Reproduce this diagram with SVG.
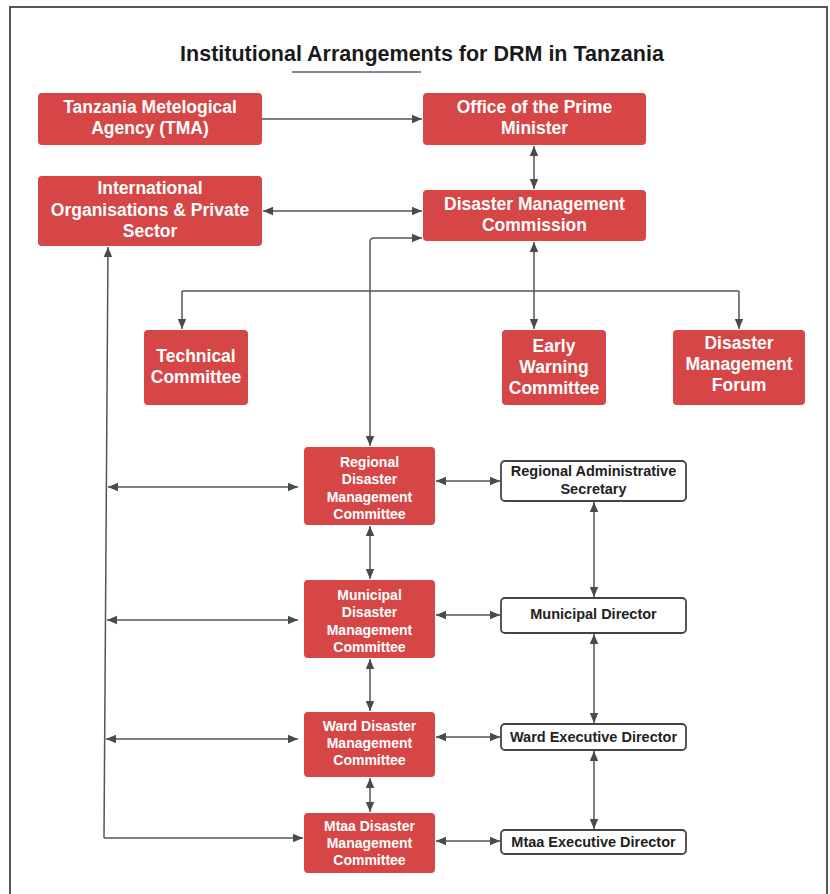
<svg xmlns="http://www.w3.org/2000/svg" width="830" height="894" viewBox="0 0 830 894">
<defs>
<marker id="ah" viewBox="0 0 10 10" refX="10" refY="5" markerWidth="10" markerHeight="10" markerUnits="userSpaceOnUse" orient="auto-start-reverse">
<path d="M0,0.8 L10,5 L0,9.2 Z" fill="#4a4a4a"/>
</marker>
<style>
.red{fill:#d64646;}
.wht{fill:#ffffff;stroke:#444;stroke-width:1.8;}
.tl{font-family:"Liberation Sans",Arial,sans-serif;font-weight:bold;fill:#ffffff;text-anchor:middle;font-size:17.5px;}
.tm{font-family:"Liberation Sans",Arial,sans-serif;font-weight:bold;fill:#ffffff;text-anchor:middle;font-size:14px;}
.tw{font-family:"Liberation Sans",Arial,sans-serif;font-weight:bold;fill:#222;text-anchor:middle;font-size:14.5px;}
.c{fill:none;stroke:#555;stroke-width:1.5;}
.b{marker-start:url(#ah);marker-end:url(#ah);}
.e{marker-end:url(#ah);}
</style>
</defs>
<rect x="0" y="0" width="830" height="894" fill="#ffffff"/>
<rect x="10" y="7" width="817" height="900" fill="none" stroke="#444" stroke-width="1.8"/>
<g id="title">
<text x="422" y="61" font-family="Liberation Sans,Arial,sans-serif" font-weight="bold" font-size="21.5" fill="#1a1a1a" text-anchor="middle">Institutional Arrangements for DRM in Tanzania</text>
<line x1="292" y1="72" x2="421" y2="72" stroke="#7f8a96" stroke-width="1.8"/>
</g>
<g id="connectors">
<path class="c e" d="M262,119 H422"/>
<path class="c b" d="M534,146 V189"/>
<path class="c b" d="M263,211 H422"/>
<path class="c b" d="M370,446 V242 Q370,238 374,238 H422"/>
<path class="c b" d="M534,242 V329"/>
<path class="c" d="M182,291 H739"/>
<path class="c e" d="M182,291 V329"/>
<path class="c e" d="M739,291 V329"/>
<path class="c e" d="M104,838 L108,247"/>
<path class="c e" d="M104,838 H303"/>
<path class="c b" d="M108,487 H298"/>
<path class="c b" d="M107,620 H298"/>
<path class="c b" d="M106,739 H298"/>
<path class="c b" d="M436,481 H500"/>
<path class="c b" d="M436,615 H500"/>
<path class="c b" d="M436,737 H500"/>
<path class="c b" d="M436,841 H500"/>
<path class="c b" d="M370,526 V579"/>
<path class="c b" d="M370,659 V711"/>
<path class="c b" d="M370,778 V812"/>
<path class="c b" d="M594,502 V597"/>
<path class="c b" d="M594,634 V723"/>
<path class="c b" d="M594,751 V829"/>
</g>
<g id="tma">
<rect class="red" x="38" y="93" width="224" height="52" rx="4"/>
<text class="tl" x="150" y="113">Tanzania Metelogical</text>
<text class="tl" x="150" y="134">Agency (TMA)</text>
</g>
<g id="opm">
<rect class="red" x="423" y="93" width="223" height="52" rx="4"/>
<text class="tl" x="534.5" y="113">Office of the Prime</text>
<text class="tl" x="534.5" y="134">Minister</text>
</g>
<g id="intl">
<rect class="red" x="38" y="176" width="224" height="70" rx="4"/>
<text class="tl" x="150" y="194">International</text>
<text class="tl" x="150" y="216">Organisations &amp; Private</text>
<text class="tl" x="150" y="237">Sector</text>
</g>
<g id="dmc">
<rect class="red" x="423" y="190" width="223" height="51" rx="4"/>
<text class="tl" x="534.5" y="210">Disaster Management</text>
<text class="tl" x="534.5" y="231">Commission</text>
</g>
<g id="technical">
<rect class="red" x="144" y="330" width="104" height="75" rx="4"/>
<text class="tl" x="196" y="362">Technical</text>
<text class="tl" x="196" y="383">Committee</text>
</g>
<g id="ewc">
<rect class="red" x="502" y="330" width="104" height="75" rx="4"/>
<text class="tl" x="554" y="352">Early</text>
<text class="tl" x="554" y="373">Warning</text>
<text class="tl" x="554" y="394">Committee</text>
</g>
<g id="forum">
<rect class="red" x="673" y="330" width="132" height="75" rx="4"/>
<text class="tl" x="739" y="349">Disaster</text>
<text class="tl" x="739" y="370">Management</text>
<text class="tl" x="739" y="391">Forum</text>
</g>
<g id="regional">
<rect class="red" x="304" y="447" width="131" height="78" rx="4"/>
<text class="tm" x="369.5" y="467">Regional</text>
<text class="tm" x="369.5" y="484">Disaster</text>
<text class="tm" x="369.5" y="502">Management</text>
<text class="tm" x="369.5" y="519">Committee</text>
</g>
<g id="municipal">
<rect class="red" x="304" y="580" width="131" height="78" rx="4"/>
<text class="tm" x="369.5" y="600">Municipal</text>
<text class="tm" x="369.5" y="617">Disaster</text>
<text class="tm" x="369.5" y="635">Management</text>
<text class="tm" x="369.5" y="652">Committee</text>
</g>
<g id="ward">
<rect class="red" x="304" y="712" width="131" height="65" rx="4"/>
<text class="tm" x="369.5" y="731">Ward Disaster</text>
<text class="tm" x="369.5" y="748">Management</text>
<text class="tm" x="369.5" y="765">Committee</text>
</g>
<g id="mtaa">
<rect class="red" x="304" y="813" width="131" height="60" rx="4"/>
<text class="tm" x="369.5" y="831">Mtaa Disaster</text>
<text class="tm" x="369.5" y="848">Management</text>
<text class="tm" x="369.5" y="865">Committee</text>
</g>
<g id="ras">
<rect class="wht" x="501" y="461" width="185" height="40" rx="4"/>
<text class="tw" x="593.5" y="476">Regional Administrative</text>
<text class="tw" x="593.5" y="494">Secretary</text>
</g>
<g id="md">
<rect class="wht" x="501" y="598" width="185" height="35" rx="4"/>
<text class="tw" x="593.5" y="619">Municipal Director</text>
</g>
<g id="wed">
<rect class="wht" x="501" y="724" width="185" height="26" rx="4"/>
<text class="tw" x="593.5" y="742">Ward Executive Director</text>
</g>
<g id="med">
<rect class="wht" x="501" y="830" width="185" height="24" rx="4"/>
<text class="tw" x="593.5" y="847">Mtaa Executive Director</text>
</g>
</svg>
